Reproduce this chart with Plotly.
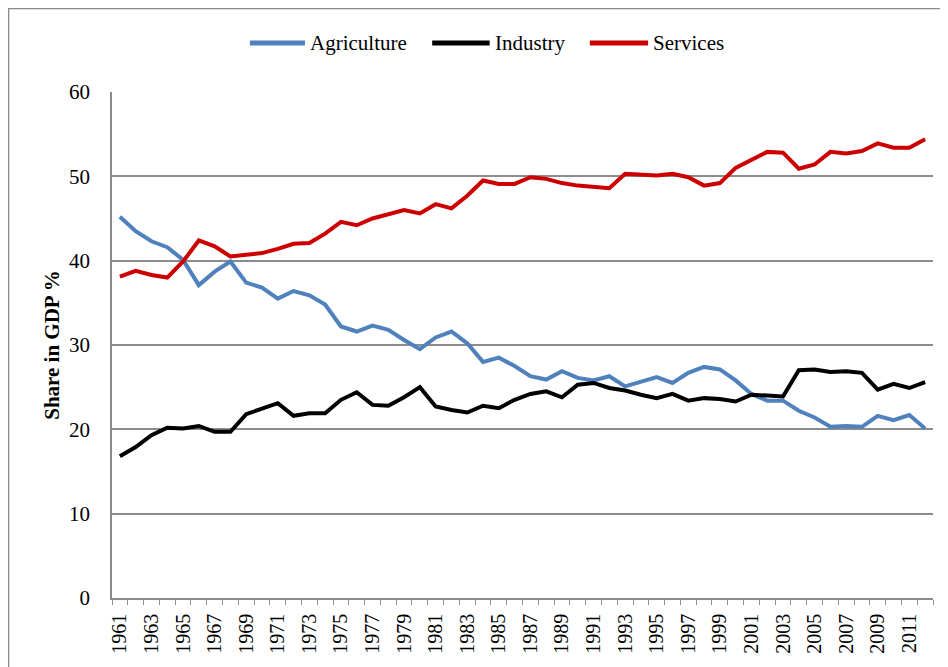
import plotly.graph_objects as go

# Data (share in GDP, %)
years = list(range(1961, 2013))

agriculture = [45.2, 43.5, 42.3, 41.6, 40.1, 37.1, 38.7, 39.9, 37.4, 36.8,
               35.5, 36.4, 35.9, 34.8, 32.2, 31.6, 32.3, 31.8, 30.6, 29.5,
               30.9, 31.6, 30.2, 28.0, 28.5, 27.5, 26.3, 25.9, 26.9, 26.1,
               25.8, 26.3, 25.1, 25.7, 26.2, 25.5, 26.7, 27.4, 27.1, 25.8,
               24.2, 23.4, 23.4, 22.2, 21.4, 20.3, 20.4, 20.3, 21.6, 21.1,
               21.7, 20.1]

industry = [16.8, 17.9, 19.3, 20.2, 20.1, 20.4, 19.7, 19.7, 21.8, 22.4,
            23.1, 21.6, 21.9, 21.9, 23.5, 24.4, 22.9, 22.8, 23.8, 25.0,
            22.7, 22.3, 22.0, 22.8, 22.5, 23.5, 24.2, 24.5, 23.8, 25.3,
            25.5, 24.9, 24.6, 24.1, 23.7, 24.2, 23.4, 23.7, 23.6, 23.3,
            24.1, 24.0, 23.9, 27.0, 27.1, 26.8, 26.9, 26.7, 24.7, 25.4,
            24.9, 25.6]

services = [38.1, 38.8, 38.3, 38.0, 39.9, 42.4, 41.7, 40.5, 40.7, 40.9,
            41.4, 42.0, 42.1, 43.2, 44.6, 44.2, 45.0, 45.5, 46.0, 45.6,
            46.7, 46.2, 47.7, 49.5, 49.1, 49.1, 49.9, 49.7, 49.2, 48.9,
            48.8, 48.6, 50.3, 50.2, 50.1, 50.3, 49.9, 48.9, 49.2, 51.0,
            52.0, 52.9, 52.8, 50.9, 51.4, 52.9, 52.7, 53.0, 53.9, 53.4,
            53.4, 54.4]

tick_years = list(range(1961, 2012, 2))

series_names = ["Agriculture", "Industry", "Services"]
series_colors = ["#4F81BD", "#000000", "#CC0000"]
series_values = [agriculture, industry, services]

fig = go.Figure()

for name, vals, color in zip(series_names, series_values, series_colors):
    fig.add_trace(go.Scatter(
        x=years, y=vals, name=name, mode="lines",
        line=dict(color=color, width=4),
        showlegend=False,
    ))

# Excel-style legend: long line swatch followed by the label (paper coords)
legend_y = 1.097
legend_items = [(0.168, 0.235), (0.390, 0.460), (0.582, 0.653)]
for (x0, x1), name, color in zip(legend_items, series_names, series_colors):
    fig.add_shape(
        type="line", xref="paper", yref="paper",
        x0=x0, x1=x1, y0=legend_y, y1=legend_y,
        line=dict(color=color, width=5),
    )
    fig.add_annotation(
        xref="paper", yref="paper", x=x1 + 0.004, y=legend_y,
        text=name, showarrow=False, xanchor="left", yanchor="middle",
        font=dict(size=21),
    )

# outer frame of the original figure (cut on the right and bottom)
fig.add_shape(
    type="rect", xref="paper", yref="paper",
    x0=-0.126, x1=1.06, y0=-0.3, y1=1.165,
    line=dict(color="#8c8c8c", width=1.5),
    fillcolor="rgba(0,0,0,0)", layer="below",
)

font_family = "Liberation Serif, Times New Roman, serif"

fig.update_layout(
    width=948, height=667,
    margin=dict(l=104, r=23, t=84, b=77),
    paper_bgcolor="white",
    plot_bgcolor="white",
    font=dict(family=font_family, color="#000000", size=21),
    showlegend=False,
    xaxis=dict(
        automargin=False,
        range=[1960.5, 2012.5],
        tickmode="array",
        tickvals=tick_years,
        ticktext=[str(y) for y in tick_years],
        tickangle=-90,
        ticks="",
        showgrid=False,
        zeroline=False,
        showline=True,
        linecolor="#8c8c8c",
        linewidth=1.5,
        tickfont=dict(size=20),
        ticklabelstandoff=6,
        minor=dict(
            tickmode="linear", tick0=0.5, dtick=1,
            ticks="outside", ticklen=5, tickcolor="#8c8c8c", tickwidth=1,
            showgrid=False,
        ),
    ),
    yaxis=dict(
        automargin=False,
        range=[0, 60],
        dtick=10,
        showgrid=True,
        gridcolor="#8c8c8c",
        gridwidth=1.5,
        zeroline=False,
        showline=True,
        linecolor="#8c8c8c",
        linewidth=1.5,
        ticks="",
        ticklabelstandoff=16,
        tickfont=dict(size=21),
        title=dict(
            text="<b>Share in GDP %</b>",
            font=dict(size=21),
            standoff=4,
        ),
    ),
)

fig.write_html("out.html")
